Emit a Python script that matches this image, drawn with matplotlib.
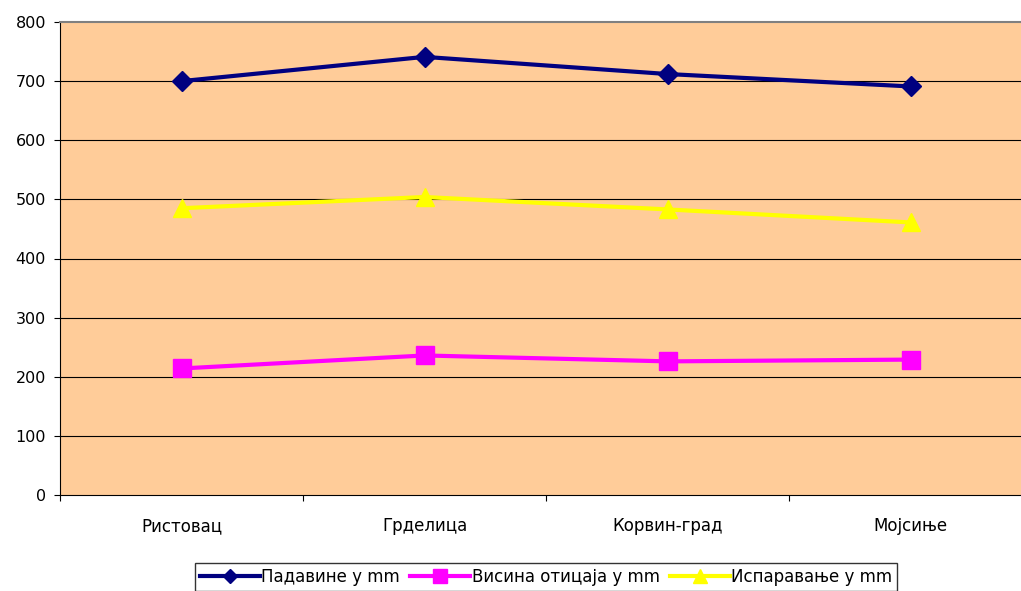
import matplotlib
matplotlib.use("Agg")
import matplotlib.pyplot as plt
import numpy as np

# stations along the river and annual water balance values (mm)
stations = ["Ристовац", "Грделица", "Корвин-град", "Мојсиње"]
padavine = [700, 741, 712, 691]
oticaj = [214, 236, 226, 229]
isparavanje = [485, 504, 483, 461]

y_ticks = [0, 100, 200, 300, 400, 500, 600, 700, 800]

plt.rcParams["font.family"] = ["DejaVu Sans"]
plt.rcParams["font.size"] = 12

fig = plt.figure(figsize=(10.21, 5.91), dpi=100)
W, H = 1021, 591
left, right, top, bottom = 60, 1032, 22, 495
ax = fig.add_axes([left / W, 1 - bottom / H, (right - left) / W, (bottom - top) / H])
ax.set_facecolor("#FFCC99")

x = np.arange(len(stations))
ax.plot(x, padavine, color="#000080", lw=3.0, marker="D", ms=10,
        label="Падавине у mm", zorder=5)
ax.plot(x, oticaj, color="#FF00FF", lw=3.0, marker="s", ms=13.5,
        label="Висина отицаја у mm", zorder=4)
ax.plot(x, isparavanje, color="#FFFF00", lw=3.0, marker="^", ms=13.5,
        label="Испаравање у mm", zorder=3)

ax.set_xlim(-0.5, len(stations) - 0.5)
ax.set_ylim(0, 800)
ax.set_yticks(y_ticks)
ax.tick_params(axis="y", direction="out", length=4, width=0.8, pad=6, color="black",
               labelsize=11.5)

# category labels centred, tick marks between categories
ax.set_xticks(x)
ax.set_xticklabels(stations)
ax.tick_params(axis="x", which="major", length=0, pad=16)
ax.set_xticks(np.arange(-0.5, len(stations)), minor=True)
ax.tick_params(axis="x", which="minor", direction="out", length=4, width=0.8)

for v in y_ticks[1:-1]:
    ax.axhline(v, color="black", lw=0.8, zorder=1)

ax.spines["top"].set_color("#808080")
ax.spines["top"].set_linewidth(1.5)
ax.spines["right"].set_visible(False)
ax.spines["left"].set_color("black")
ax.spines["bottom"].set_color("black")

leg = fig.legend(loc="upper center", bbox_to_anchor=(546 / W, 1 - 563 / H), ncol=3,
                 frameon=True, fancybox=False, edgecolor="black", handlelength=3.6,
                 handletextpad=0.1, columnspacing=0.6, borderpad=0.3,
                 markerscale=0.7, borderaxespad=0)
leg.get_frame().set_linewidth(1.0)

fig.savefig("out.png", dpi=100)
